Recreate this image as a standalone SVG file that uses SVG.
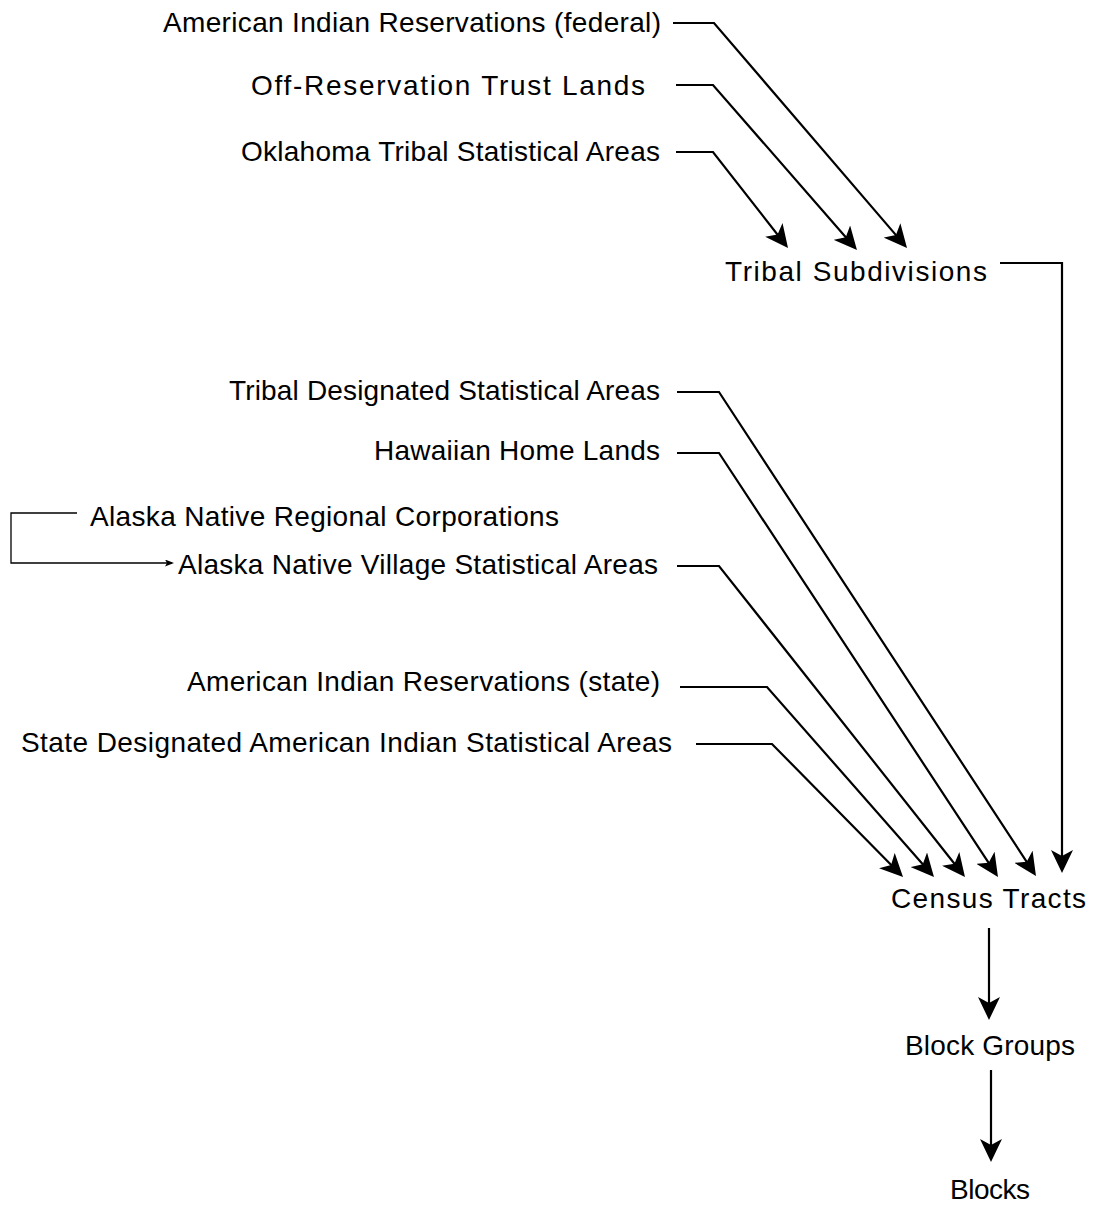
<svg xmlns="http://www.w3.org/2000/svg" width="1094" height="1207" viewBox="0 0 1094 1207">
<style>
text{font-family:"Liberation Sans",Arial,Helvetica,sans-serif;font-size:28px;fill:#000;}
.c{fill:none;stroke:#000;stroke-width:2.2;stroke-linejoin:miter;}
.t{fill:none;stroke:#000;stroke-width:1.3;}
</style>
<defs>
<marker id="ah" viewBox="0 0 23 22" refX="15" refY="11" markerWidth="23" markerHeight="22" markerUnits="userSpaceOnUse" orient="auto">
<path d="M0,0 L23,11 L0,22 L6,11 z" fill="#000"/>
</marker>
<marker id="sh" viewBox="0 0 9 7" refX="7" refY="3.5" markerWidth="9" markerHeight="7" markerUnits="userSpaceOnUse" orient="auto">
<path d="M0,0 L9,3.5 L0,7 L2,3.5 z" fill="#000"/>
</marker>
</defs>
<rect width="1094" height="1207" fill="#fff"/>
<g id="connectors">
<polyline class="c" points="673,23 714,23 901.8,241.9" marker-end="url(#ah)"/>
<polyline class="c" points="676,85 713,85 851.7,244" marker-end="url(#ah)"/>
<polyline class="c" points="676,152 713,152 783.1,241.7" marker-end="url(#ah)"/>
<polyline class="c" points="1000,263 1062,263 1062,865" marker-end="url(#ah)"/>
<polyline class="c" points="677,392 719,392 1031.6,869.3" marker-end="url(#ah)"/>
<polyline class="c" points="677,453 719,453 993.6,870.3" marker-end="url(#ah)"/>
<polyline class="c" points="677,566 719,566 960,870.7" marker-end="url(#ah)"/>
<polyline class="c" points="680,687 767,687 928.7,871" marker-end="url(#ah)"/>
<polyline class="c" points="696,744 772,744 897.4,871.3" marker-end="url(#ah)"/>
<line class="c" x1="989" y1="928" x2="989" y2="1012" marker-end="url(#ah)"/>
<line class="c" x1="991" y1="1070" x2="991" y2="1154" marker-end="url(#ah)"/>
<polyline class="t" points="77,513 11,513 11,563 172,563" marker-end="url(#sh)"/>
</g>
<g id="n-air-federal"><text x="163" y="32" textLength="498" lengthAdjust="spacing">American Indian Reservations (federal)</text></g>
<g id="n-otl"><text x="251" y="95" textLength="394" lengthAdjust="spacing">Off-Reservation Trust Lands</text></g>
<g id="n-otsa"><text x="241" y="161" textLength="419" lengthAdjust="spacing">Oklahoma Tribal Statistical Areas</text></g>
<g id="n-tribal-sub"><text x="725" y="281" textLength="262" lengthAdjust="spacing">Tribal Subdivisions</text></g>
<g id="n-tdsa"><text x="229" y="400" textLength="431" lengthAdjust="spacing">Tribal Designated Statistical Areas</text></g>
<g id="n-hhl"><text x="374" y="460" textLength="286" lengthAdjust="spacing">Hawaiian Home Lands</text></g>
<g id="n-anrc"><text x="90" y="526" textLength="469" lengthAdjust="spacing">Alaska Native Regional Corporations</text></g>
<g id="n-anvsa"><text x="178" y="574" textLength="480" lengthAdjust="spacing">Alaska Native Village Statistical Areas</text></g>
<g id="n-air-state"><text x="187" y="691" textLength="473" lengthAdjust="spacing">American Indian Reservations (state)</text></g>
<g id="n-sdaisa"><text x="21" y="752" textLength="651" lengthAdjust="spacing">State Designated American Indian Statistical Areas</text></g>
<g id="n-tracts"><text x="891" y="908" textLength="195" lengthAdjust="spacing">Census Tracts</text></g>
<g id="n-bg"><text x="905" y="1055" textLength="170" lengthAdjust="spacing">Block Groups</text></g>
<g id="n-blocks"><text x="950" y="1199" textLength="80" lengthAdjust="spacing">Blocks</text></g>
</svg>
